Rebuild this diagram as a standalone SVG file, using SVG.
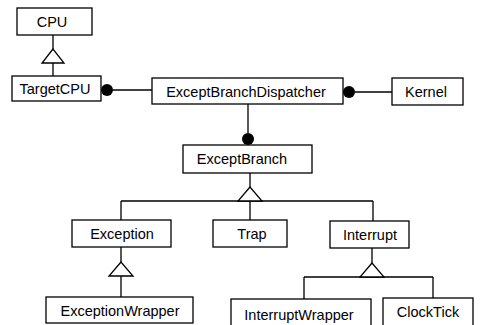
<svg xmlns="http://www.w3.org/2000/svg" width="482" height="325" viewBox="0 0 482 325">
<style>
.box{fill:#fff;stroke:#000;stroke-width:1.3}
.lbl{font-family:"Liberation Sans",Arial,sans-serif;font-size:14.5px;fill:#000;text-anchor:middle}
.ln{fill:none;stroke:#000;stroke-width:1.3}
.tri{fill:#fff;stroke:#000;stroke-width:1.3}
.dot{fill:#000}
</style>
<rect width="482" height="325" fill="#fff"/>
<g id="connectors">
<path class="ln" d="M53,35V49M53,63V76"/>
<polygon class="tri" points="53,49 42,63 64,63"/>
<circle class="dot" cx="107" cy="90" r="6"/>
<path class="ln" d="M113,90H152"/>
<circle class="dot" cx="349" cy="92" r="6"/>
<path class="ln" d="M355,92H392"/>
<path class="ln" d="M248,104V133"/>
<circle class="dot" cx="248" cy="139" r="6"/>
<path class="ln" d="M250,173V187M121,201H373M121,201V220M250,201V220M373,201V221"/>
<polygon class="tri" points="250,187 238,201 262,201"/>
<path class="ln" d="M121,247V262M121,276V297"/>
<polygon class="tri" points="121,262 109,276 133,276"/>
<path class="ln" d="M372,248V263M304,277H433M304,277V299M433,277V298"/>
<polygon class="tri" points="372,263 360,277 384,277"/>
</g>
<g id="CPU"><rect class="box" x="17" y="8" width="75" height="27"/><text class="lbl" x="52" y="26.5">CPU</text></g>
<g id="TargetCPU"><rect class="box" x="12" y="76" width="89" height="25"/><text class="lbl" x="55" y="94">TargetCPU</text></g>
<g id="ExceptBranchDispatcher"><rect class="box" x="152" y="78" width="191" height="26"/><text class="lbl" x="246" y="96.5">ExceptBranchDispatcher</text></g>
<g id="Kernel"><rect class="box" x="392" y="78" width="71" height="27"/><text class="lbl" x="426" y="96.5">Kernel</text></g>
<g id="ExceptBranch"><rect class="box" x="183" y="145" width="129" height="28"/><text class="lbl" x="242" y="164">ExceptBranch</text></g>
<g id="Exception"><rect class="box" x="72" y="220" width="99" height="27"/><text class="lbl" x="122" y="239">Exception</text></g>
<g id="Trap"><rect class="box" x="213" y="220" width="74" height="27"/><text class="lbl" x="252" y="238.5">Trap</text></g>
<g id="Interrupt"><rect class="box" x="330" y="221" width="79" height="27"/><text class="lbl" x="370" y="240">Interrupt</text></g>
<g id="ExceptionWrapper"><rect class="box" x="46" y="297" width="147" height="26"/><text class="lbl" x="120" y="316">ExceptionWrapper</text></g>
<g id="InterruptWrapper"><rect class="box" x="231" y="299" width="140" height="30"/><text class="lbl" x="299" y="320">InterruptWrapper</text></g>
<g id="ClockTick"><rect class="box" x="383" y="298" width="90" height="30"/><text class="lbl" x="428" y="317">ClockTick</text></g>
</svg>
